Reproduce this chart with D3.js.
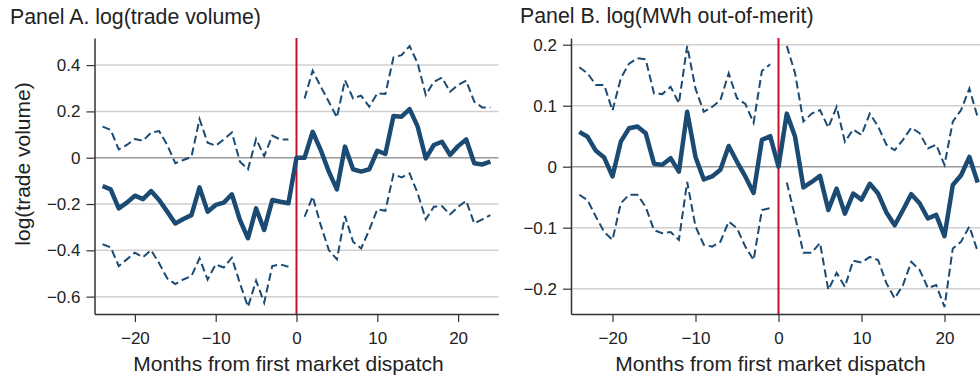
<!DOCTYPE html>
<html>
<head>
<meta charset="utf-8">
<script src="https://cdn.jsdelivr.net/npm/d3@7"></script>
<style>
  body { margin: 0; background: #fff; }
  svg { display: block; font-family: "Liberation Sans", Arial, sans-serif; }
</style>
</head>
<body>
<svg id="chart" width="980" height="378"></svg>
<script>
// months -24..24, null = no interval at the reference month
const months = d3.range(-24, 25);

const aCoef = [-0.122, -0.137, -0.219, -0.194, -0.164, -0.179, -0.144, -0.183, -0.233, -0.284, -0.265, -0.248,
  -0.128, -0.233, -0.204, -0.194, -0.158, -0.269, -0.348, -0.219, -0.312, -0.183, -0.19, -0.197,
  0,
  0.0, 0.112, 0.033, -0.06, -0.137, 0.048, -0.05, -0.06, -0.05, 0.03, 0.016, 0.18,
  0.177, 0.21, 0.134, -0.003, 0.055, 0.069, 0.012, 0.05, 0.079, -0.024, -0.029, -0.017];
const aUpper = [0.134, 0.12, 0.036, 0.055, 0.081, 0.073, 0.108, 0.115, 0.055, -0.024, -0.01, 0.004,
  0.166, 0.065, 0.052, 0.079, 0.109, -0.017, -0.05, 0.081, 0.007, 0.095, 0.079, 0.079,
  null,
  0.256, 0.376, 0.307, 0.242, 0.174, 0.335, 0.256, 0.268, 0.22, 0.278, 0.275, 0.433,
  0.443, 0.482, 0.407, 0.271, 0.328, 0.346, 0.285, 0.314, 0.333, 0.242, 0.217, 0.217];
const aLower = [-0.374, -0.387, -0.468, -0.439, -0.41, -0.43, -0.399, -0.456, -0.521, -0.546, -0.526, -0.511,
  -0.435, -0.526, -0.461, -0.474, -0.432, -0.543, -0.644, -0.531, -0.626, -0.468, -0.461, -0.471,
  null,
  -0.255, -0.168, -0.291, -0.399, -0.439, -0.252, -0.363, -0.392, -0.312, -0.223, -0.229, -0.071,
  -0.085, -0.068, -0.154, -0.266, -0.212, -0.209, -0.245, -0.212, -0.186, -0.284, -0.266, -0.248];

const bCoef = [0.057, 0.049, 0.026, 0.015, -0.016, 0.041, 0.063, 0.066, 0.055, 0.005, 0.003, 0.014,
  -0.008, 0.09, 0.016, -0.021, -0.016, -0.005, 0.034, 0.008, -0.016, -0.043, 0.044, 0.05,
  0,
  0.087, 0.049, -0.034, -0.025, -0.015, -0.071, -0.036, -0.077, -0.044, -0.054, -0.028, -0.044,
  -0.075, -0.096, -0.071, -0.045, -0.06, -0.085, -0.079, -0.114, -0.03, -0.014, 0.016, -0.026];
const bUpper = [0.163, 0.153, 0.134, 0.134, 0.092, 0.145, 0.169, 0.178, 0.176, 0.12, 0.119, 0.131,
  0.104, 0.198, 0.128, 0.09, 0.098, 0.109, 0.153, 0.112, 0.103, 0.072, 0.157, 0.168,
  null,
  0.198, 0.153, 0.074, 0.087, 0.093, 0.064, 0.098, 0.041, 0.061, 0.052, 0.087, 0.066,
  0.036, 0.027, 0.044, 0.064, 0.055, 0.03, 0.036, 0.003, 0.074, 0.093, 0.128, 0.081];
const bLower = [-0.046, -0.055, -0.082, -0.107, -0.12, -0.06, -0.046, -0.046, -0.066, -0.104, -0.109, -0.107,
  -0.12, -0.025, -0.098, -0.128, -0.131, -0.123, -0.09, -0.101, -0.131, -0.153, -0.071, -0.068,
  null,
  -0.026, -0.082, -0.141, -0.141, -0.125, -0.202, -0.174, -0.197, -0.154, -0.157, -0.148, -0.153,
  -0.191, -0.216, -0.194, -0.156, -0.169, -0.199, -0.194, -0.23, -0.134, -0.123, -0.098, -0.139];

const xTicks = [-20, -10, 0, 10, 20];
const aTicks = [-0.6, -0.4, -0.2, 0, 0.2, 0.4];
const bTicks = [-0.2, -0.1, 0, 0.1, 0.2];

const svg = d3.select('#chart');
const blue = '#1b4a72';
const red = '#c8102e';

const panels = [
  {title: 'Panel A. log(trade volume)', tx: 10, ty: 24, x0: 94.5, x1: 498.5,
    yDomain: [-0.675, 0.517], ticks: aTicks, coef: aCoef, upper: aUpper, lower: aLower,
    yTitle: 'log(trade volume)'},
  {title: 'Panel B. log(MWh out-of-merit)', tx: 520, ty: 23, x0: 571, x1: 986,
    yDomain: [-0.2415, 0.211], ticks: bTicks, coef: bCoef, upper: bUpper, lower: bLower}
];

const plotTop = 38, plotBottom = 314;

panels.forEach(p => {
  const g = svg.append('g');
  const x = d3.scaleLinear().domain([-25, 25]).range([p.x0, p.x1]);
  const y = d3.scaleLinear().domain(p.yDomain).range([plotBottom, plotTop]);

  // gridlines
  g.selectAll('line.grid')
    .data(p.ticks)
    .enter().append('line')
    .attr('x1', p.x0).attr('x2', p.x1)
    .attr('y1', d => y(d)).attr('y2', d => y(d))
    .attr('stroke', d => d === 0 ? '#9a9a9a' : '#d0d0d0')
    .attr('stroke-width', 1.5);

  // reference month
  g.append('line')
    .attr('x1', x(0)).attr('x2', x(0))
    .attr('y1', plotTop).attr('y2', plotBottom)
    .attr('stroke', red).attr('stroke-width', 2);

  const line = (vals) => d3.line()
    .defined((d, i) => vals[i] !== null)
    .x(d => x(d))
    .y((d, i) => y(vals[i]))(months);

  [p.upper, p.lower].forEach(vals => {
    g.append('path')
      .attr('d', line(vals))
      .attr('fill', 'none')
      .attr('stroke', blue)
      .attr('stroke-width', 2)
      .attr('stroke-dasharray', '8,4');
  });
  g.append('path')
    .attr('d', line(p.coef))
    .attr('fill', 'none')
    .attr('stroke', blue)
    .attr('stroke-width', 4.5)
    .attr('stroke-linejoin', 'round');

  // axes
  const yAxis = g.append('g')
    .attr('transform', `translate(${p.x0},0)`)
    .call(d3.axisLeft(y).tickValues(p.ticks).tickFormat(d3.format('~g'))
      .tickSize(8).tickSizeOuter(0).tickPadding(6));
  const xAxis = g.append('g')
    .attr('transform', `translate(0,${plotBottom})`)
    .call(d3.axisBottom(x).tickValues(xTicks).tickSize(8).tickSizeOuter(0).tickPadding(10));
  [yAxis, xAxis].forEach(a => {
    a.select('.domain').attr('stroke', '#333').attr('stroke-width', 1.5);
    a.selectAll('.tick line').attr('stroke', '#333').attr('stroke-width', 1.2);
    a.selectAll('.tick text').attr('fill', '#222').style('font-size', '17px')
      .style('font-family', '"Liberation Sans", Arial, sans-serif');
  });

  g.append('text')
    .attr('x', (p.x0 + p.x1) / 2 - 8).attr('y', 371)
    .attr('text-anchor', 'middle')
    .attr('fill', '#222').style('font-size', '21px')
    .text('Months from first market dispatch');

  g.append('text')
    .attr('x', p.tx).attr('y', p.ty)
    .attr('fill', '#222').style('font-size', '21.3px')
    .text(p.title);

  if (p.yTitle) {
    g.append('text')
      .attr('transform', `translate(30,164) rotate(-90)`)
      .attr('text-anchor', 'middle')
      .attr('fill', '#222').style('font-size', '21px')
      .text(p.yTitle);
  }
});
</script>
</body>
</html>
